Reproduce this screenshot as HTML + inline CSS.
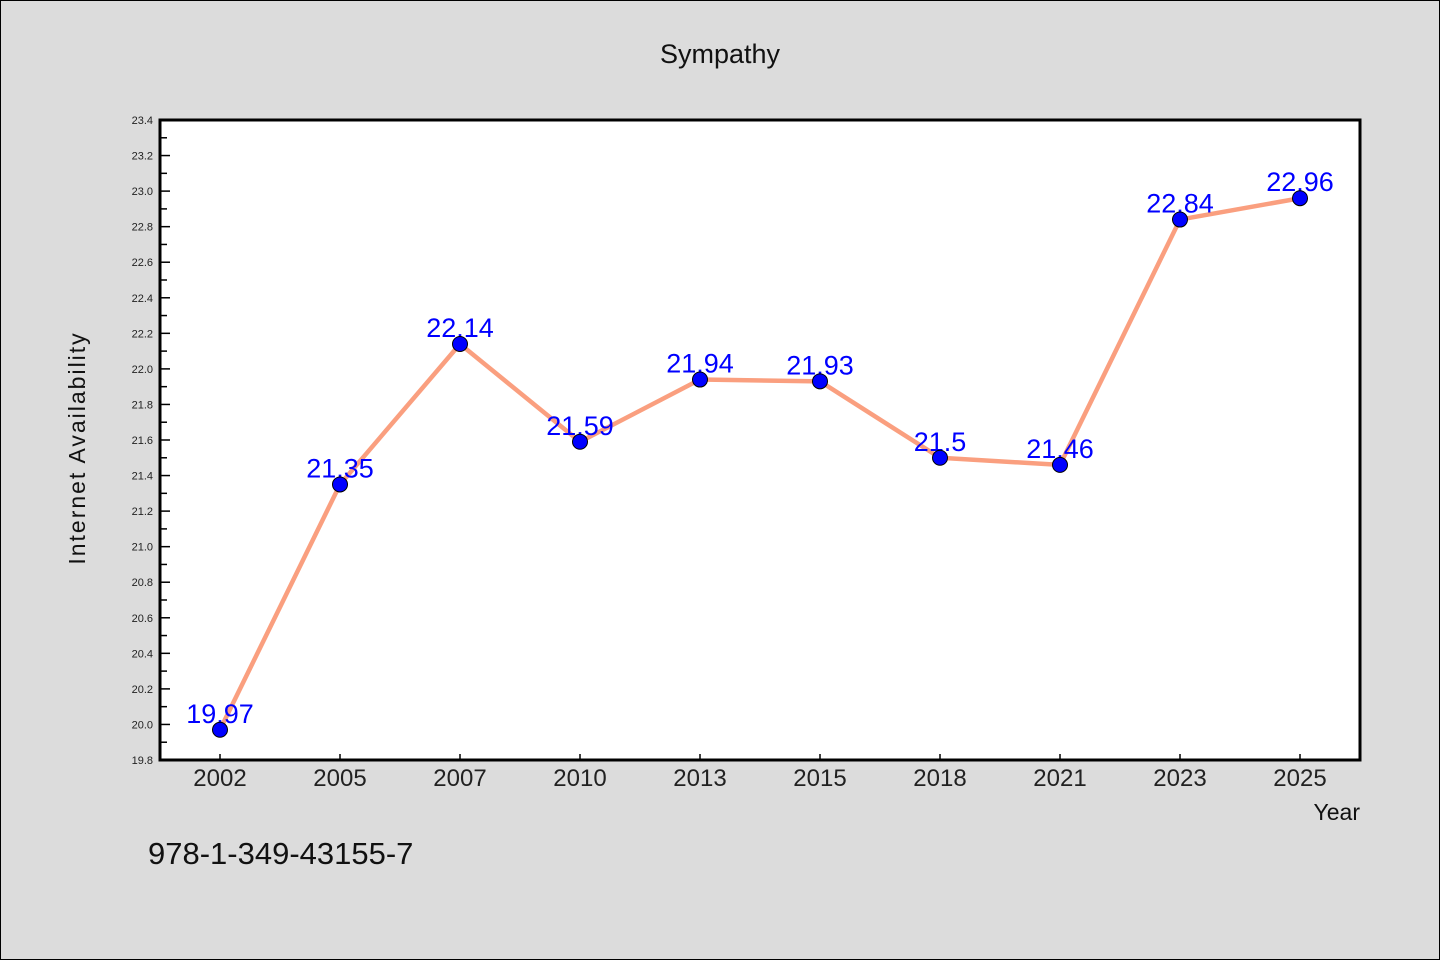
<!DOCTYPE html>
<html><head><meta charset="utf-8"><style>
html,body{margin:0;padding:0;background:#dcdcdc;}
svg{display:block;font-family:"WenQuanYi Zen Hei","Liberation Sans",sans-serif;}
</style></head><body>
<svg id="chart" width="1440" height="960" viewBox="0 0 1440 960">
<rect x="0.5" y="0.5" width="1439" height="959" fill="#dcdcdc" stroke="#000" stroke-width="1"/>
<text x="720" y="63" text-anchor="middle" font-size="27" fill="#111">Sympathy</text>
<rect x="160" y="120" width="1200" height="640" fill="#fff"/>
<g id="yticks"></g><g id="xticks"></g>
<g id="series"></g>
<rect x="160" y="120" width="1200" height="640" fill="none" stroke="#000" stroke-width="3"/>
<text transform="translate(85,448) rotate(-90)" text-anchor="middle" font-size="23" fill="#111" letter-spacing="2">Internet Availability</text>
<text x="1360" y="820" text-anchor="end" font-size="23" fill="#111">Year</text>
<text x="148" y="864" font-size="31" fill="#111">978-1-349-43155-7</text>
</svg>
<script>
const categories=["2002","2005","2007","2010","2013","2015","2018","2021","2023","2025"];
const values=[19.97,21.35,22.14,21.59,21.94,21.93,21.5,21.46,22.84,22.96];
const valueLabels=["19.97","21.35","22.14","21.59","21.94","21.93","21.5","21.46","22.84","22.96"];
const yTicks=["19.8","20.0","20.2","20.4","20.6","20.8","21.0","21.2","21.4","21.6","21.8","22.0","22.2","22.4","22.6","22.8","23.0","23.2","23.4"];
const NS="http://www.w3.org/2000/svg";
const L=160,R=1360,T=120,B=760,yMin=19.8,yMax=23.4;
const x=i=>L+(R-L)/categories.length*(i+0.5);
const y=v=>B-(v-yMin)/(yMax-yMin)*(B-T);
function mk(tag,attrs,parent){const e=document.createElementNS(NS,tag);for(const k in attrs)e.setAttribute(k,attrs[k]);parent.appendChild(e);return e;}
const yg=document.getElementById('yticks');
yTicks.forEach((t,i)=>{const v=parseFloat(t),yy=y(v);
 const ln=mk('line',{x1:L,x2:L+10,y1:yy,y2:yy,stroke:'#000','stroke-width':1.5},yg);
 
 
 if(i<yTicks.length-1){const ym=y(v+0.1);const m=mk('line',{x1:L,x2:L+7,y1:ym,y2:ym,stroke:'#000','stroke-width':1.5},yg);
  
  }
 const tx=mk('text',{x:L-7,y:yy+4,'text-anchor':'end','font-size':11,fill:'#222'},yg);tx.textContent=t;
 
 
});
const xg=document.getElementById('xticks');
categories.forEach((c,i)=>{const xx=x(i);
 const ln=mk('line',{x1:xx,x2:xx,y1:B,y2:B-6,stroke:'#000','stroke-width':1.5},xg);
 
 
 const tx=mk('text',{x:xx,y:B+26,'text-anchor':'middle','font-size':24,fill:'#222'},xg);tx.textContent=c;
 
 
});
const sg=document.getElementById('series');
const pl=mk('polyline',{points:values.map((v,i)=>x(i)+','+y(v)).join(' '),fill:'none',stroke:'#fa9f7f','stroke-width':4.5,'stroke-linejoin':'round'},sg);


values.forEach((v,i)=>{
 const tx=mk('text',{x:x(i),y:y(v)-7,'text-anchor':'middle','font-size':27,fill:'#0000ff'},sg);tx.textContent=valueLabels[i];
 
 
});
values.forEach((v,i)=>{
 const c=mk('circle',{cx:x(i),cy:y(v),r:7.5,fill:'#0000ff',stroke:'#000','stroke-width':1},sg);
 
 
});
</script>
</body></html>
